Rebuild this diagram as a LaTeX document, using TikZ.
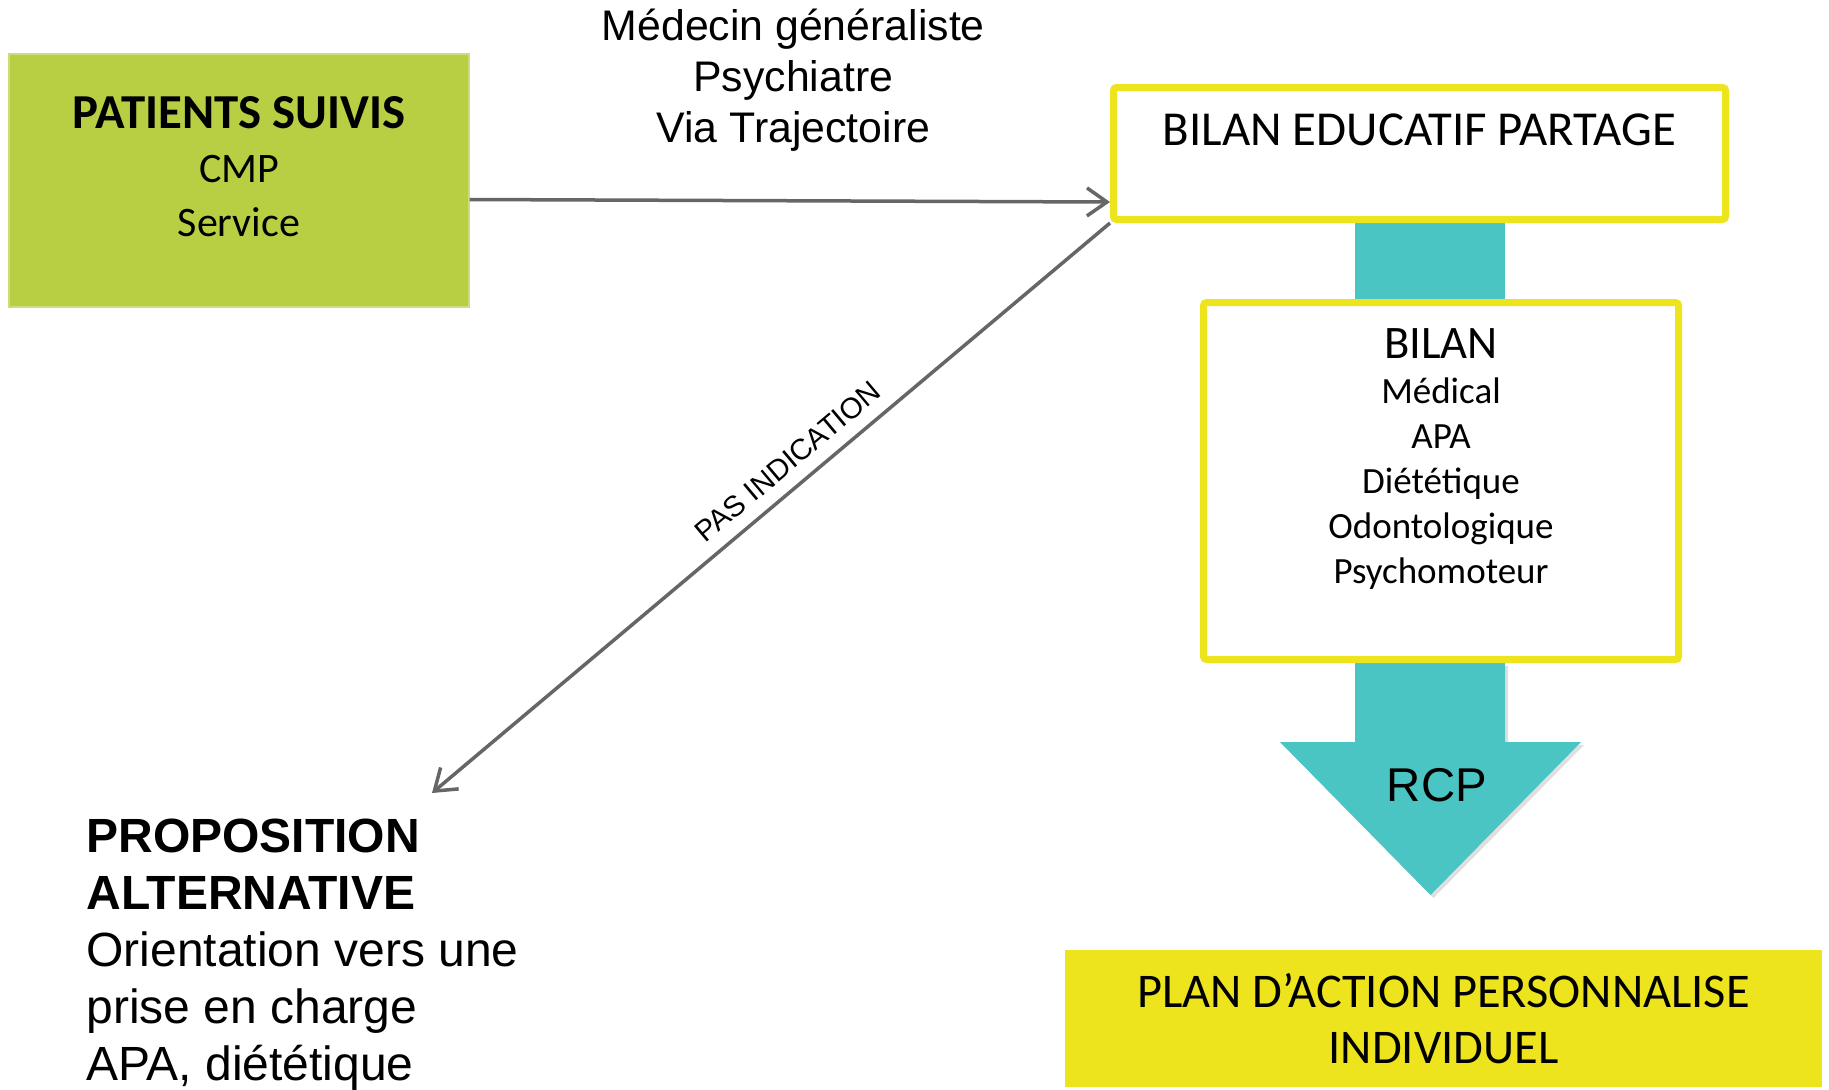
\documentclass[tikz,border=0pt]{standalone}
\usepackage{fontspec}
\setmainfont{Liberation Sans}
\newfontfamily\calibri{Carlito}
\usetikzlibrary{arrows.meta, positioning, calc, backgrounds, shadows}

\definecolor{patientgreen}{RGB}{184,207,68}
\definecolor{bilanyellow}{RGB}{238,228,30}
\definecolor{rcpteal}{RGB}{75,196,196}
\definecolor{linkgray}{RGB}{102,102,102}

\begin{document}
\begin{tikzpicture}[
    x=0.5pt, y=-0.5pt,
    greenbox/.style={
        draw=patientgreen!70!white,
        fill=patientgreen,
        line width=0.6pt,
        minimum width=230pt,
        minimum height=126.5pt,
        inner sep=0pt
    },
    framebox/.style={
        draw=bilanyellow,
        fill=white,
        line width=3.5pt,
        rounded corners=1.5pt,
        inner sep=0pt
    },
    planbox/.style={
        fill=bilanyellow,
        minimum width=378.5pt,
        minimum height=68.5pt,
        align=center,
        font=\calibri\fontsize{24.2}{28}\selectfont
    },
    box text/.style={
        align=center,
        inner sep=0pt,
        font=\calibri\fontsize{21}{27}\selectfont
    },
    link arrow/.style={
        -{Straight Barb[length=10pt, width=14pt]},
        line width=1.75pt,
        draw=linkgray
    }
]
    \useasboundingbox (0,0) rectangle (1829,1089);

    % --- Patients suivis ---
    \node[greenbox] (patients) at (239,180.5) {};
    \node[box text, below=21.5pt of patients.north] (patients text) {
        {\fontsize{24.4}{27}\selectfont\bfseries PATIENTS SUIVIS}\\CMP\\Service
    };

    % --- Bilan educatif partage ---
    \node[framebox, minimum width=306pt, minimum height=66pt,
          text depth=24.2pt, font=\calibri\fontsize{24.4}{27}\selectfont] (educ) at (1419.5,153.5) {
        BILAN EDUCATIF PARTAGE
    };

    % --- Bilan ---
    \node[framebox, minimum width=237.5pt, minimum height=178.5pt] (bilan) at (1441,481) {};
    \node[box text, below=14.5pt of bilan.north, font=\calibri\fontsize{18.5}{22.5}\selectfont] (bilan text) {
        {\fontsize{23.3}{22.5}\selectfont BILAN}\\M\'edical\\APA\\Di\'et\'etique\\Odontologique\\Psychomoteur
    };

    % --- Plan d'action ---
    \node[planbox] (plan) at (1443.5,1018.5) {PLAN D’ACTION PERSONNALISE\\INDIVIDUEL};

    % --- RCP ---
    \node[font=\fontsize{23.7}{28}\selectfont] (rcp) at (1437,785) {RCP};

    % --- Proposition alternative ---
    \node[anchor=north west, inner sep=0pt, align=left, font=\fontsize{24}{28.5}\selectfont] (alternative) at (86,819) {
        \textbf{PROPOSITION}\\\textbf{ALTERNATIVE}\\Orientation vers une\\prise en charge\\APA, di\'et\'etique
    };
    \coordinate (alt tip) at (432,793);

    % --- Arrows ---
    \draw[link arrow] ($(patients.east)+(0,19)$) -- ($(educ.west)+(0,48.5)$)
        node[midway, above=20.5pt, xshift=1.75pt, align=center, font=\fontsize{21.4}{25.5}\selectfont] (prescribers) {
            M\'edecin g\'en\'eraliste\\Psychiatre\\Via Trajectoire
        };

    \draw[link arrow] (educ.south west) -- (alt tip)
        node[pos=0.452, sloped, above=3pt, font=\fontsize{14.65}{18}\selectfont] (no indication) {PAS INDICATION};

    \begin{scope}[on background layer]
        \fill[rcpteal] (1355,223) rectangle (1505,300);
        \fill[rcpteal, drop shadow={opacity=0.25, shadow xshift=1.5pt, shadow yshift=-1.5pt}]
            (1355,663) -- (1355,742) -- (1280,742) -- (1430.5,895) -- (1581,742) -- (1505,742) -- (1505,663) -- cycle;
    \end{scope}

\end{tikzpicture}
\end{document}
